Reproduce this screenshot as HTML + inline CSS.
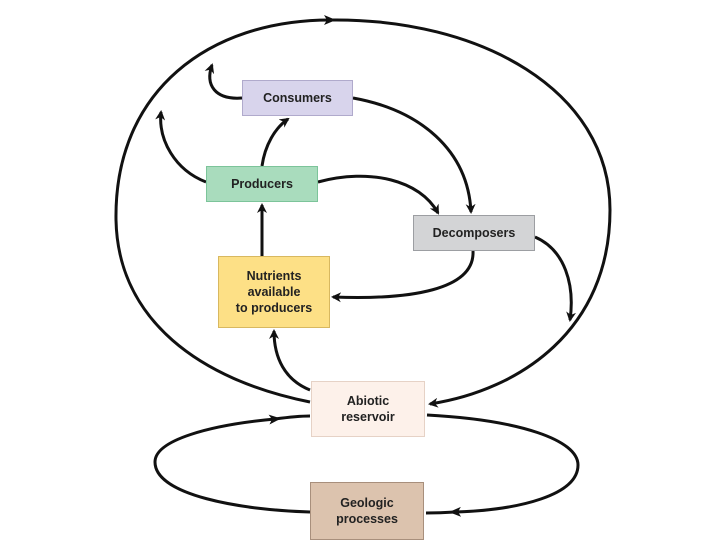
<!DOCTYPE html>
<html><head><style>
html,body{margin:0;padding:0;background:#fff;width:720px;height:540px;overflow:hidden}
.b{position:absolute;box-sizing:border-box;font-family:"Liberation Sans",sans-serif;font-weight:bold;font-size:12.5px;color:#222;display:flex;align-items:center;justify-content:center;text-align:center;line-height:16px}
</style></head><body>
<svg width="720" height="540" style="position:absolute;left:0;top:0">
<defs>
<marker id="a" markerWidth="10" markerHeight="10" refX="8" refY="5" orient="auto" markerUnits="userSpaceOnUse">
<path d="M0,0 L10,5 L0,10 L3,5 Z" fill="#111"/></marker>
<marker id="m" markerWidth="12" markerHeight="12" refX="6" refY="6" orient="auto" markerUnits="userSpaceOnUse">
<path d="M0,1 L12,6 L0,11 L3,6 Z" fill="#111"/></marker>
</defs>
<g fill="none" stroke="#111" stroke-width="3">
<!-- big loop -->
<path d="M310,402 C200,380 118,320 116,220 C114,90 210,20 330,20" marker-end="url(#m)"/>
<path d="M330,20 C480,18 610,90 610,210 C610,330 520,390 430,404" marker-end="url(#a)"/>
<!-- lower loop -->
<path d="M310,512 C240,510 155,495 155,462 C155,440 210,425 275,419" marker-end="url(#m)"/>
<path d="M275,419 C290,417 300,416 310,416"/>
<path d="M427,415 C520,420 578,440 578,465 C578,495 520,510 455,512" marker-end="url(#m)"/>
<path d="M455,512 C440,513 432,513 426,513"/>
<!-- inner -->
<path d="M242,98 C215,100 205,85 212,65" marker-end="url(#a)"/>
<path d="M206,182 C175,170 158,140 161,112" marker-end="url(#a)"/>
<path d="M262,166 C265,145 275,128 288,119" marker-end="url(#a)"/>
<path d="M318,182 C370,168 420,180 438,213" marker-end="url(#a)"/>
<path d="M353,98 C420,110 468,150 471,212" marker-end="url(#a)"/>
<path d="M535,237 C565,250 575,285 570,320" marker-end="url(#a)"/>
<path d="M473,251 C475,290 410,300 333,297" marker-end="url(#a)"/>
<path d="M310,390 C285,380 274,358 274,331" marker-end="url(#a)"/>
<path d="M262,256 L262,205" marker-end="url(#a)"/>
</g>
</svg>
<div class="b" style="left:242px;top:80px;width:111px;height:36px;background:#d8d4ec;border:1px solid #b0aacc">Consumers</div>
<div class="b" style="left:206px;top:166px;width:112px;height:36px;background:#a9dcbd;border:1px solid #7cc49a">Producers</div>
<div class="b" style="left:413px;top:215px;width:122px;height:36px;background:#d3d4d6;border:1px solid #9c9ea2">Decomposers</div>
<div class="b" style="left:218px;top:256px;width:112px;height:72px;background:#fde086;border:1px solid #d8b860">Nutrients<br>available<br>to producers</div>
<div class="b" style="left:311px;top:381px;width:114px;height:56px;background:#fdf1ea;border:1px solid #e6d2c6">Abiotic<br>reservoir</div>
<div class="b" style="left:310px;top:482px;width:114px;height:58px;background:#dcc3ae;border:1px solid #a88f7c">Geologic<br>processes</div>
</body></html>
